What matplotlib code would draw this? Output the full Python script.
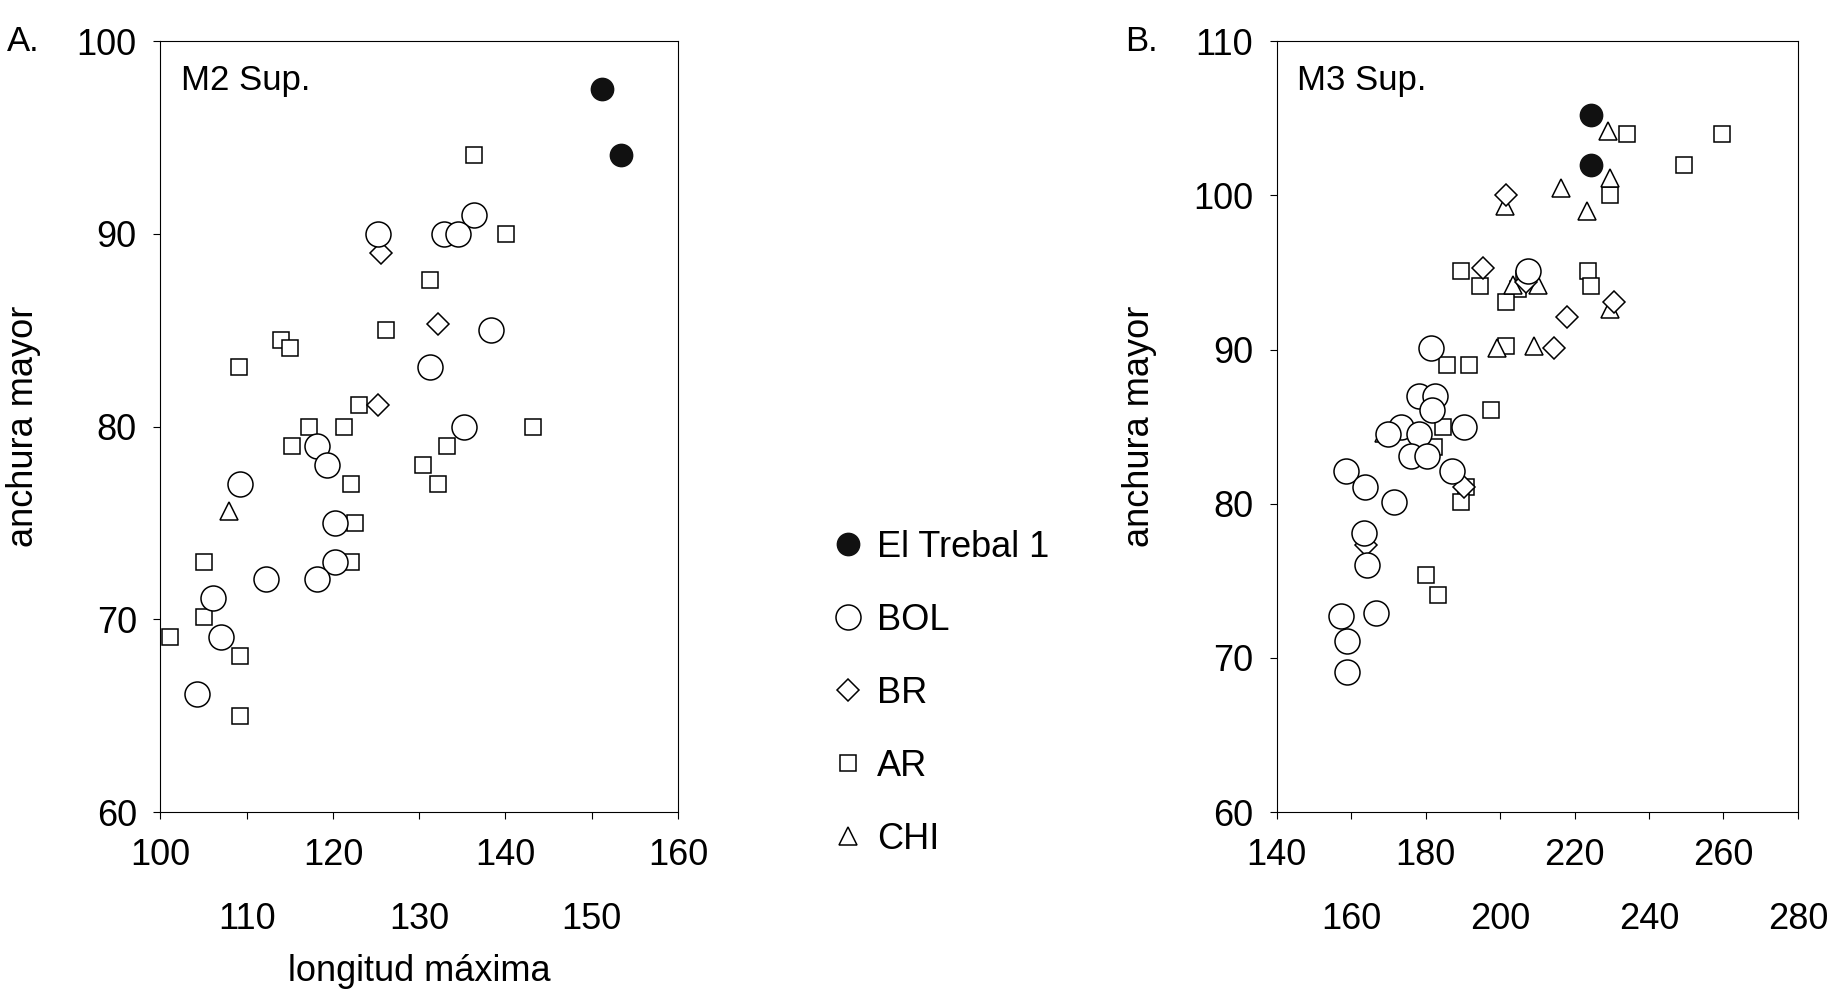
import matplotlib.pyplot as plt
from matplotlib.lines import Line2D

plt.rcParams['font.family'] = ['Liberation Sans', 'DejaVu Sans']

# Panel A: M2 Sup.
a_trebal_x = [151.2, 153.4]
a_trebal_y = [97.5, 94.1]
a_bol_x = [136.4, 132.9, 134.5, 125.2, 138.3, 131.2, 135.2, 118.2, 119.3, 109.2, 120.2, 120.2, 118.2, 112.2, 106.1, 107.0, 104.2]
a_bol_y = [91, 90, 90, 90, 85, 83.1, 80, 79, 78, 77, 75, 73, 72.1, 72.1, 71.1, 69.1, 66.1]
a_br_x = [125.6, 132.2, 125.2]
a_br_y = [89, 85.3, 81.1]
a_ar_x = [136.3, 140.1, 131.2, 126.2, 114.0, 115.0, 109.1, 123.0, 117.2, 121.3, 143.2, 115.2, 133.2, 130.4, 122.1, 132.2, 122.6, 122.1, 105.0, 105.0, 101.1, 109.2, 109.2]
a_ar_y = [94.1, 90, 87.6, 85, 84.5, 84.1, 83.1, 81.1, 80, 80, 80, 79, 79, 78, 77, 77, 75, 73, 73, 70.1, 69.1, 68.1, 65.0]
a_chi_x = [108.0]
a_chi_y = [75.6]

# Panel B: M3 Sup.
b_trebal_x = [224.3, 224.3]
b_trebal_y = [105.2, 102.0]
b_bol_x = [207.6, 181.4, 178.3, 182.4, 181.8, 173.5, 190.3, 169.9, 178.3, 176.2, 180.3, 187.2, 158.5, 163.8, 171.6, 163.5, 164.2, 166.8, 157.4, 159, 159]
b_bol_y = [95.1, 90.1, 87, 87, 86.1, 85, 85, 84.5, 84.5, 83.1, 83.1, 82.1, 82.1, 81.1, 80.1, 78.1, 76, 72.9, 72.7, 71.1, 69.1]
b_br_x = [201.6, 195.3, 207, 230.6, 218, 214.5, 190.3, 163.9]
b_br_y = [100.0, 95.3, 94.4, 93.1, 92.1, 90.1, 81.1, 77.3]
b_ar_x = [234, 259.5, 249.4, 229.6, 223.6, 224.3, 189.4, 194.7, 206.4, 204.8, 201.6, 201.6, 185.7, 191.6, 197.6, 181.6, 184.8, 182.2, 190.8, 189.4, 180, 183.4]
b_ar_y = [104, 104, 102, 100, 95.1, 94.1, 95.1, 94.1, 94.6, 93.9, 93.1, 90.2, 89, 89, 86.1, 86.1, 85, 83.7, 81.1, 80.1, 75.4, 74.1]
b_chi_x = [229, 216.4, 201.3, 223.3, 229.4, 203.5, 210.1, 199.1, 209.1, 229.4, 168.9]
b_chi_y = [104.2, 100.5, 99.3, 99.0, 101.1, 94.2, 94.2, 90.1, 90.2, 92.6, 84.6]

styles = {
    'El Trebal 1': dict(marker='o', ms=16, mfc='#111111', mec='#111111'),
    'BOL': dict(marker='o', ms=18, mfc='white', mec='black'),
    'BR': dict(marker='D', ms=11, mfc='white', mec='black'),
    'AR': dict(marker='s', ms=11, mfc='white', mec='black'),
    'CHI': dict(marker='^', ms=13, mfc='white', mec='black'),
}

fig = plt.figure(figsize=(18.29, 10.05), dpi=100)
ax_a = fig.add_axes([0.0877, 0.192, 0.283, 0.767])
ax_b = fig.add_axes([0.698, 0.192, 0.285, 0.767])


def draw(ax, series):
    for name, (xs, ys) in series.items():
        ax.plot(xs, ys, ls='none', mew=1.1, **styles[name])


draw(ax_a, {'AR': (a_ar_x, a_ar_y), 'CHI': (a_chi_x, a_chi_y), 'BR': (a_br_x, a_br_y),
            'BOL': (a_bol_x, a_bol_y), 'El Trebal 1': (a_trebal_x, a_trebal_y)})
draw(ax_b, {'AR': (b_ar_x, b_ar_y), 'CHI': (b_chi_x, b_chi_y), 'BR': (b_br_x, b_br_y),
            'BOL': (b_bol_x, b_bol_y), 'El Trebal 1': (b_trebal_x, b_trebal_y)})


def style_axes(ax, xlim, xstep, ylim, ystep, title):
    ax.set_xlim(*xlim)
    ax.set_ylim(*ylim)
    xt = list(range(xlim[0], xlim[1] + 1, xstep))
    ax.set_xticks(xt)
    ax.set_xticklabels([str(v) for v in xt])
    for i, t in enumerate(ax.xaxis.get_major_ticks()):
        t.set_pad(14 if i % 2 == 0 else 60)
    ax.set_yticks(list(range(ylim[0], ylim[1] + 1, ystep)))
    ax.tick_params(labelsize=26, length=5, direction='out')
    ax.tick_params(axis='y', pad=12)
    ax.set_ylabel('anchura mayor', fontsize=26, labelpad=26)
    ax.text(0.04, 0.97, title, transform=ax.transAxes, fontsize=25, va='top')


style_axes(ax_a, (100, 160), 10, (60, 100), 10, 'M2 Sup.')
style_axes(ax_b, (140, 280), 20, (60, 110), 10, 'M3 Sup.')
ax_a.set_xlabel('longitud máxima', fontsize=26, labelpad=12)

fig.text(0.004, 0.975, 'A.', fontsize=25, va='top')
fig.text(0.615, 0.975, 'B.', fontsize=25, va='top')

handles = [Line2D([], [], ls='none', mew=1.1, **styles[n]) for n in styles]
fig.legend(handles, list(styles), loc='center left', bbox_to_anchor=(0.43, 0.31),
           frameon=False, fontsize=26, labelspacing=1.05, handletextpad=0.0,
           handlelength=1.6)

fig.savefig('out.png')
